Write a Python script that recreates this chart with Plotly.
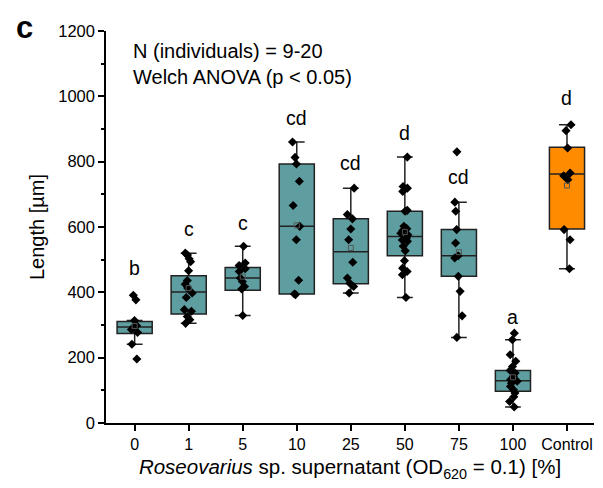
import plotly.graph_objects as go

# ---------------- data ----------------
categories = ["0", "1", "5", "10", "25", "50", "75", "100", "Control"]

g0 = [391, 377, 314, 298, 294, 286, 277, 241, 196]
g1 = [520, 514, 503, 494, 466, 436, 425, 413, 398, 384, 347, 342, 326, 316, 305]
g5 = [541, 490, 482, 472, 464, 444, 433, 418, 410, 329]
g10 = [860, 813, 793, 740, 666, 602, 561, 437, 395, 393]
g25 = [719, 638, 625, 594, 561, 492, 444, 428, 418, 398]
g50 = [814, 724, 719, 709, 651, 648, 602, 595, 589, 581, 576, 566, 560, 556,
       541, 527, 497, 474, 464, 454, 384]
g75 = [830, 676, 648, 592, 551, 512, 505, 449, 403, 328, 262]
g100 = [275, 255, 209, 189, 173, 161, 153, 143, 133, 128, 122, 112, 102, 92,
        80, 66, 49]
gctrl = [913, 895, 842, 765, 757, 745, 592, 561, 472]

groups = [g0, g1, g5, g10, g25, g50, g75, g100, gctrl]

# box statistics
q1 = [274, 334, 406, 395, 426, 512, 449, 97, 594]
median = [294, 401, 444, 602, 524, 571, 512, 129, 762]
q3 = [311, 451, 476, 793, 625, 648, 592, 161, 844]
lowerfence = [241, 305, 329, 395, 398, 384, 262, 49, 472]
upperfence = [314, 520, 541, 860, 719, 814, 676, 255, 913]
means = [297, 413, 448, 605, 536, 585, 523, 140, 727]

letters = ["b", "c", "c", "cd", "cd", "d", "cd", "a", "d"]
letter_y = [475, 594, 613, 934, 796, 888, 753, 326, 995]

# ---------------- styles ----------------
TEAL = "#5F9EA0"
ORANGE = "#FF8C00"
EDGE = "#222222"
FONT = "Liberation Sans, Arial, sans-serif"
BOX_W = 0.65

fig = go.Figure()

n_teal = len(categories) - 1
for idx_range, color in [(range(0, n_teal), TEAL), (range(n_teal, len(categories)), ORANGE)]:
    idx = list(idx_range)
    fig.add_trace(go.Box(
        x=[categories[i] for i in idx],
        q1=[q1[i] for i in idx],
        median=[median[i] for i in idx],
        q3=[q3[i] for i in idx],
        lowerfence=[lowerfence[i] for i in idx],
        upperfence=[upperfence[i] for i in idx],
        fillcolor=color,
        line=dict(color=EDGE, width=1.5),
        whiskerwidth=0.45,
        width=BOX_W,
        boxpoints=False,
        showlegend=False,
        hoverinfo="skip",
    ))

# mean markers
fig.add_trace(go.Scatter(
    x=categories, y=means, mode="markers",
    marker=dict(symbol="square-open", size=5, color="#555555", line=dict(width=1)),
    showlegend=False, hoverinfo="skip",
))

# sample points
xs, ys = [], []
for cat, g in zip(categories, groups):
    xs += [cat] * len(g)
    ys += g
fig.add_trace(go.Box(
    x=xs, y=ys,
    boxpoints="all", jitter=0.25, pointpos=0,
    width=BOX_W,
    fillcolor="rgba(0,0,0,0)",
    line=dict(color="rgba(0,0,0,0)", width=0),
    marker=dict(symbol="diamond", size=7, color="black"),
    showlegend=False, hoverinfo="skip",
))

annotations = []
for i, (lab, ly) in enumerate(zip(letters, letter_y)):
    annotations.append(dict(x=i, y=ly, xref="x", yref="y", text=lab,
                            showarrow=False, font=dict(size=19.5, color="black", family=FONT),
                            yanchor="middle"))
annotations += [
    dict(x=0.051, y=0.949, xref="paper", yref="paper", xanchor="left", yanchor="middle",
         text="N (individuals) = 9-20", showarrow=False,
         font=dict(size=20, color="black", family=FONT)),
    dict(x=0.051, y=0.883, xref="paper", yref="paper", xanchor="left", yanchor="middle",
         text="Welch ANOVA (p < 0.05)", showarrow=False,
         font=dict(size=20, color="black", family=FONT)),
    dict(x=-0.168, y=1.010, xref="paper", yref="paper", xanchor="center", yanchor="middle",
         text="<b>c</b>", showarrow=False,
         font=dict(size=31, color="black", family=FONT)),
]

fig.update_layout(
    width=603, height=488,
    margin=dict(l=106, r=9, t=31, b=65),
    plot_bgcolor="white", paper_bgcolor="white",
    boxmode="overlay", boxgap=0.35,
    font=dict(family=FONT, color="black", size=16),
    annotations=annotations,
    xaxis=dict(
        type="category", categoryorder="array", categoryarray=categories,
        range=[-0.53, 8.5],
        showline=True, linecolor="black", linewidth=1.5,
        ticks="outside", ticklen=6, tickwidth=1.5, tickcolor="black",
        showgrid=False, zeroline=False,
        tickfont=dict(size=16),
        automargin=False,
        title=dict(text="<i>Roseovarius</i> sp. supernatant (OD<sub>620</sub> = 0.1) [%]",
                   font=dict(size=20.5), standoff=8),
    ),
    yaxis=dict(
        range=[0, 1200], tickvals=[0, 200, 400, 600, 800, 1000, 1200],
        showline=True, linecolor="black", linewidth=1.5,
        ticks="outside", ticklen=6, tickwidth=1.5, tickcolor="black",
        minor=dict(dtick=100, ticks="outside", ticklen=3, tickwidth=1.5, tickcolor="black",
                   showgrid=False),
        showgrid=False, zeroline=False,
        tickfont=dict(size=16.5),
        automargin=False,
        title=dict(text="Length [µm]", font=dict(size=20), standoff=8),
    ),
)

fig.write_html("out.html", config={"displayModeBar": False},
               post_script="document.body.style.margin='0';")
